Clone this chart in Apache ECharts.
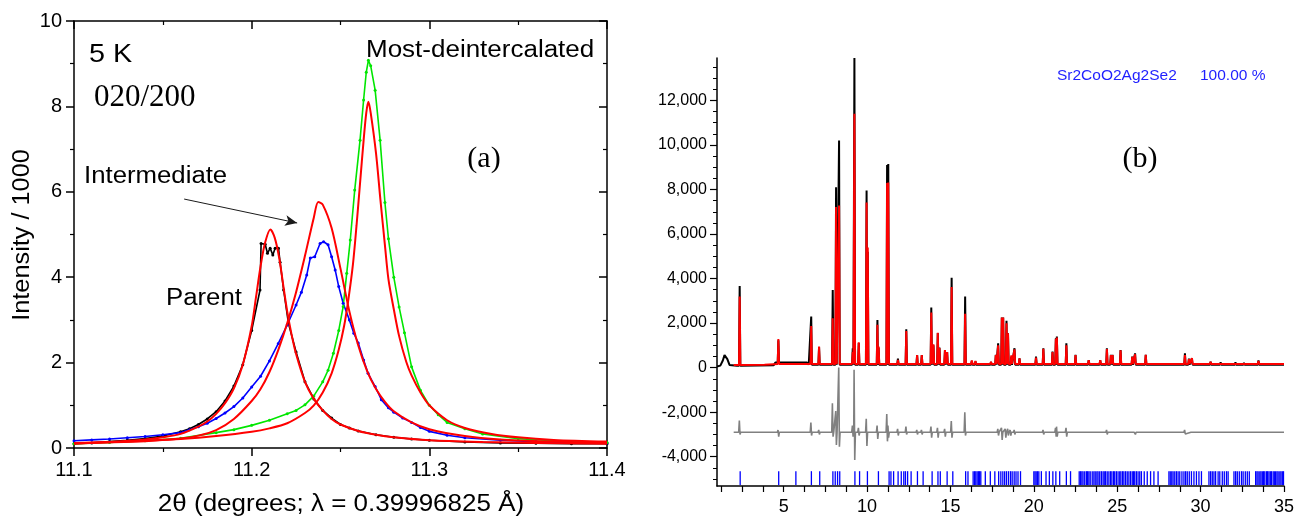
<!DOCTYPE html>
<html><head><meta charset="utf-8">
<script src="https://cdn.jsdelivr.net/npm/echarts@6/dist/echarts.min.js"></script>
<style>html,body{margin:0;padding:0;background:#fff}#c{width:1297px;height:517px}</style>
</head><body><div id="c"></div>
<script>
// ---------- Panel (a): 020/200 peak at 5 K ----------
const parentX = [11.100,11.110,11.120,11.130,11.140,11.150,11.160,11.165,11.170,11.175,11.180,11.185,11.190,11.195,11.200,11.2047,11.2053,11.2076,11.2089,11.2104,11.2119,11.2132,11.2151,11.216,11.218,11.2207,11.225,11.230,11.235,11.240,11.245,11.250,11.255,11.260,11.270,11.280,11.290,11.300,11.320,11.340,11.360,11.380,11.400];
const parentY = [0.10,0.12,0.15,0.18,0.22,0.28,0.38,0.45,0.55,0.68,0.85,1.10,1.45,1.95,2.75,3.70,4.79,4.77,4.56,4.68,4.52,4.68,4.68,4.35,3.70,2.92,2.25,1.55,1.15,0.88,0.70,0.55,0.47,0.40,0.31,0.25,0.21,0.18,0.14,0.12,0.11,0.10,0.10];
const parentFitX = [11.100,11.120,11.140,11.150,11.160,11.170,11.175,11.180,11.185,11.190,11.195,11.200,11.2025,11.205,11.2075,11.2105,11.213,11.2155,11.218,11.220,11.2225,11.225,11.230,11.235,11.240,11.245,11.250,11.260,11.270,11.280,11.300,11.330,11.360,11.400];
const parentFitY = [0.10,0.14,0.20,0.25,0.33,0.50,0.62,0.80,1.05,1.40,1.95,2.85,3.55,4.25,4.80,5.12,4.92,4.45,3.75,3.20,2.65,2.20,1.55,1.15,0.88,0.68,0.55,0.40,0.31,0.25,0.18,0.14,0.12,0.10];
const interX = [11.100,11.110,11.120,11.130,11.140,11.150,11.160,11.165,11.170,11.175,11.180,11.185,11.190,11.195,11.200,11.205,11.210,11.215,11.220,11.225,11.228,11.231,11.233,11.2355,11.2385,11.2405,11.243,11.245,11.247,11.249,11.2515,11.255,11.2575,11.260,11.263,11.2655,11.2695,11.273,11.277,11.280,11.285,11.290,11.295,11.300,11.310,11.320,11.340,11.360,11.380,11.400];
const interY = [0.17,0.19,0.21,0.24,0.27,0.31,0.36,0.43,0.50,0.58,0.69,0.82,0.97,1.17,1.43,1.68,2.04,2.45,2.88,3.35,3.65,4.05,4.45,4.48,4.79,4.83,4.76,4.48,4.17,3.78,3.39,3.00,2.69,2.46,2.06,1.75,1.44,1.13,0.94,0.84,0.70,0.60,0.48,0.39,0.30,0.24,0.18,0.15,0.13,0.12];
const interFitX = [11.100,11.120,11.140,11.160,11.170,11.180,11.190,11.200,11.205,11.210,11.215,11.220,11.225,11.230,11.235,11.2375,11.240,11.245,11.250,11.255,11.260,11.265,11.270,11.275,11.280,11.290,11.300,11.320,11.340,11.370,11.400];
const interFitY = [0.11,0.13,0.16,0.22,0.29,0.42,0.68,1.10,1.38,1.78,2.30,2.92,3.65,4.50,5.40,5.76,5.70,5.15,4.20,3.20,2.40,1.80,1.38,1.08,0.86,0.60,0.44,0.28,0.20,0.15,0.12];
const mostX = [11.100,11.120,11.140,11.160,11.180,11.190,11.200,11.210,11.220,11.225,11.230,11.235,11.240,11.243,11.246,11.249,11.2515,11.2535,11.2555,11.258,11.261,11.263,11.2645,11.2657,11.267,11.2695,11.2723,11.275,11.277,11.280,11.283,11.286,11.290,11.295,11.300,11.305,11.310,11.320,11.330,11.350,11.370,11.400];
const mostY = [0.10,0.13,0.17,0.23,0.36,0.43,0.53,0.65,0.80,0.88,1.01,1.22,1.55,1.82,2.22,2.75,3.31,4.09,4.87,6.04,7.21,8.15,8.80,9.08,8.95,8.38,7.21,5.75,4.90,4.00,3.30,2.70,1.90,1.35,1.00,0.78,0.60,0.45,0.33,0.22,0.17,0.13];
const mostFitX = [11.100,11.120,11.140,11.160,11.180,11.200,11.210,11.220,11.230,11.235,11.240,11.245,11.249,11.252,11.2545,11.257,11.259,11.261,11.263,11.2645,11.2657,11.267,11.270,11.2725,11.275,11.277,11.280,11.283,11.287,11.290,11.295,11.300,11.310,11.320,11.335,11.350,11.370,11.400];
const mostFitY = [0.12,0.14,0.17,0.21,0.28,0.38,0.46,0.58,0.82,1.00,1.30,1.75,2.30,2.85,3.50,4.30,5.20,6.20,7.20,7.85,8.11,7.85,6.90,5.80,4.75,3.95,3.25,2.62,2.02,1.70,1.30,1.00,0.65,0.47,0.33,0.25,0.19,0.15];
const arrowFrom = [11.162, 5.83];
const arrowTo = [11.2256, 5.27];

// ---------- Panel (b): Rietveld pattern ----------
const peakPos  = [2.36,4.68,6.65,7.12,7.94,8.14,8.32,9.14,9.24,9.50,9.97,10.04,10.62,10.69,11.20,11.27,11.85,12.35,13.0,13.28,13.85,13.98,14.24,14.34,14.67,14.8,15.07,15.88,16.28,16.5,17.43,17.72,17.86,18.08,18.16,18.36,18.45,18.65,18.84,19.14,20.13,20.57,21.12,21.32,21.38,21.95,22.5,23.29,23.98,24.38,24.62,24.72,25.2,25.9,26.07,26.71,28.33,29.06,29.3,29.48,30.6,31.2,32.09,32.6,33.47];
const peakObs  = [3670,1230,2290,930,3490,8100,10200,870,13900,1100,7950,5200,2140,900,9100,9140,400,1720,560,560,2700,1000,1550,900,790,700,4040,3190,300,280,250,580,1090,2250,2250,2100,1540,500,870,420,500,870,720,1320,1400,1090,570,340,340,870,570,570,790,500,640,570,200,640,400,420,270,240,240,220,320];
const peakCalc = [3190,1280,1870,945,2220,7210,7280,700,11400,1140,7420,5400,1920,950,8290,8310,350,1640,560,560,2480,1050,1570,880,790,700,3620,2420,320,300,260,560,1000,2250,2250,1990,1540,550,820,420,450,850,700,1280,1350,1000,560,330,330,840,560,560,780,480,600,580,200,560,380,430,260,240,240,220,300];
const obsBgX = [1.0,1.2,1.35,1.45,1.55,1.62,1.75,2.2,4.4,4.5,6.4,6.5,35];
const obsBgY = [50,90,320,560,600,380,120,80,110,230,230,130,130];
const calcBgX = [2.0,3.85,3.95,35];
const calcBgY = [120,125,165,160];
const diffOffset = -2900;
const diffPos  = [2.36,4.68,6.65,7.12,7.94,8.14,8.32,9.14,9.24,9.50,9.97,10.62,11.20,11.27,11.85,12.35,13.0,13.28,13.85,14.24,14.67,15.07,15.88,17.86,18.08,18.3,18.45,18.6,18.84,19.14,20.57,21.32,21.38,21.95,22.5,24.38,25.2,26.07,29.06,29.48];
const diffUp   = [520,100,430,100,1300,950,2900,300,2800,200,600,300,820,300,150,250,100,100,250,200,150,500,900,150,200,150,150,100,100,80,100,200,250,200,80,100,80,80,100,80];
const diffDown = [100,200,150,100,200,570,650,200,1250,150,620,300,410,250,150,100,100,100,250,250,200,250,150,150,350,250,150,150,100,80,100,200,200,200,80,100,80,100,80,80];
const reflPos = [2.39,4.70,5.73,6.66,7.16,7.95,8.09,8.23,8.36,9.27,9.55,10.02,10.68,11.32,11.43,11.59,11.86,12.05,12.2,12.3,12.43,12.64,13.02,13.36,13.9,14.25,14.39,14.8,15.14,15.91,16.05,16.36,16.45,16.52,16.6,16.68,16.75,16.82,17.09,17.39,17.66,17.89,18.02,18.14,18.25,18.36,18.48,18.6,18.7,18.82,18.93,19.05,19.2,
  20.0,20.07,20.14,20.22,20.3,20.45,20.73,20.93,21.14,21.32,21.55,21.95,22.2,
  22.72,22.8,22.88,22.95,23.05,23.15,23.22,23.3,23.38,23.5,23.6,23.68,23.78,23.85,23.95,24.05,24.15,24.22,24.3,24.4,24.5,24.6,24.68,24.78,24.85,24.95,25.05,25.15,25.22,25.32,25.4,25.5,25.6,25.7,25.8,25.9,25.98,26.05,26.15,26.25,26.35,26.45,26.62,26.8,27.0,27.2,27.45,
  28.1,28.18,28.27,28.35,28.45,28.55,28.65,28.75,28.88,29.0,29.1,29.2,29.32,29.45,29.6,29.75,29.9,30.05,
  30.5,30.6,30.7,30.8,30.9,31.05,31.15,31.3,31.42,31.55,31.65,
  32.0,32.1,32.2,32.32,32.45,32.55,32.68,32.8,32.92,
  33.3,33.38,33.45,33.55,33.62,33.7,33.78,33.85,33.95,34.02,34.1,34.18,34.25,34.35,34.42,34.5,34.58,34.65,34.75,34.82,34.9,34.97];
const xTickVals  = [1.25,2.5,3.75,5,6.25,7.5,8.75,10,11.25,12.5,13.75,15,16.25,17.5,18.75,20,21.25,22.5,23.75,25,26.25,27.5,28.75,30,31.25,32.5,33.75,35];
const xLabelVals = [5,10,15,20,25,30,35];
const yMajor = [-4000,-2000,0,2000,4000,6000,8000,10000,12000];
const yMinor = [-5000,-4500,-4000,-3500,-3000,-2500,-2000,-1500,-1000,-500,0,500,1000,1500,2000,2500,3000,3500,4000,4500,5000,5500,6000,6500,7000,7500,8000,8500,9000,9500,10000,10500,11000,11500,12000,12500,13000,13500];

// ---------- build ----------
const SANS = "'Liberation Sans', Arial, sans-serif";
const SERIF = "'Liberation Serif', 'Times New Roman', serif";
const zip = (xs, ys) => xs.map((x, i) => [x, ys[i]]);
function stepBase(x, kx, ky) { let b = ky[0]; for (let i = 0; i < kx.length; i++) { if (kx[i] <= x) b = ky[i]; } return b; }
const HW = 0.04;
function profile(heights, kx, ky, startX) {
  const pts = zip(kx, ky);
  peakPos.forEach((p, i) => {
    if (p < startX) return;
    const b = stepBase(p, kx, ky);
    pts.push([p - HW, b], [p, heights[i]], [p + HW, b]);
  });
  pts.sort((a, b) => a[0] - b[0]);
  return pts;
}
const obsData = profile(peakObs, obsBgX, obsBgY, 1.0);
const calcData = profile(peakCalc, calcBgX, calcBgY, 2.0);
const diffData = [[2.0, diffOffset]];
diffPos.forEach((p, i) => {
  diffData.push([p - 0.06, diffOffset], [p - 0.02, diffOffset + diffUp[i]], [p + 0.02, diffOffset - diffDown[i]], [p + 0.06, diffOffset]);
});
diffData.push([35, diffOffset]);
const TICK_TOP = -4650, TICK_BOTTOM = -5270;

const axisLineBlack = { show: true, onZero: false, lineStyle: { color: '#000', width: 1.5 } };
const chart = echarts.init(document.getElementById('c'), null, { renderer: 'canvas' });

const lineData = (name, xs, ys, color) => ({
  name, type: 'line', xAxisIndex: 0, yAxisIndex: 0, data: zip(xs, ys),
  showSymbol: true, symbol: 'circle', symbolSize: 3, color,
  lineStyle: { color, width: 1.6 }, itemStyle: { color }, z: 2
});
const fitLine = (name, xs, ys) => ({
  name, type: 'line', xAxisIndex: 0, yAxisIndex: 0, data: zip(xs, ys),
  showSymbol: false, smooth: 0.3, color: '#ff0000',
  lineStyle: { color: '#ff0000', width: 2 }, z: 3
});

const label = (text, x, y, size, opts = {}) => ({
  type: 'text', x, y, scaleX: opts.scaleX || 1, scaleY: opts.scaleY || 1, rotation: opts.rotation || 0, z: 50,
  style: {
    text, fontSize: size, fontFamily: opts.family || SANS, fill: opts.color || '#000',
    align: opts.align || 'left', verticalAlign: 'middle',
    textAlign: opts.align || 'left', textVerticalAlign: 'middle'
  }
});

const parentFitSeries = fitLine('Parent fit', parentFitX, parentFitY);
parentFitSeries.markLine = {
  silent: true, symbol: ['none', 'arrow'], symbolSize: [8, 12],
  label: { show: false },
  lineStyle: { color: '#1a1a1a', width: 1, type: 'solid' },
  data: [[{ coord: arrowFrom }, { coord: arrowTo }]]
};

const option = {
  animation: false,
  backgroundColor: '#fff',
  grid: [
    { left: 74, top: 21, width: 533, height: 427 },
    { left: 717, top: 58, width: 572, height: 428 }
  ],
  xAxis: [
    { gridIndex: 0, type: 'value', min: 11.1, max: 11.4, interval: 0.1, position: 'bottom',
      axisLine: axisLineBlack, axisTick: { show: true, length: 8, lineStyle: { color: '#000', width: 1.5 } },
      minorTick: { show: true, splitNumber: 2, length: 4, lineStyle: { color: '#000', width: 1.2 } },
      axisLabel: { fontSize: 20, color: '#000', fontFamily: SANS, margin: 12, formatter: v => v.toFixed(1) },
      splitLine: { show: false } },
    { gridIndex: 0, type: 'value', min: 11.1, max: 11.4, interval: 0.1, position: 'top',
      axisLine: axisLineBlack, axisTick: { show: true, inside: true, length: 8, lineStyle: { color: '#000', width: 1.5 } },
      minorTick: { show: true, splitNumber: 2, length: 4, lineStyle: { color: '#000', width: 1.2 } },
      axisLabel: { show: false }, splitLine: { show: false } },
    { gridIndex: 1, type: 'value', min: 1, max: 35, position: 'bottom',
      axisLine: axisLineBlack,
      axisTick: { show: true, length: 6, customValues: xTickVals, lineStyle: { color: '#000', width: 1.2 } },
      axisLabel: { fontSize: 18, color: '#000', fontFamily: SANS, margin: 12, customValues: xLabelVals },
      splitLine: { show: false } }
  ],
  yAxis: [
    { gridIndex: 0, type: 'value', min: 0, max: 10, interval: 2, position: 'left',
      axisLine: axisLineBlack, axisTick: { show: true, length: 8, lineStyle: { color: '#000', width: 1.5 } },
      minorTick: { show: true, splitNumber: 2, length: 4, lineStyle: { color: '#000', width: 1.2 } },
      axisLabel: { fontSize: 20, color: '#000', fontFamily: SANS, margin: 12 },
      splitLine: { show: false } },
    { gridIndex: 0, type: 'value', min: 0, max: 10, interval: 2, position: 'right',
      axisLine: axisLineBlack, axisTick: { show: true, inside: true, length: 8, lineStyle: { color: '#000', width: 1.5 } },
      minorTick: { show: true, splitNumber: 2, length: 4, lineStyle: { color: '#000', width: 1.2 } },
      axisLabel: { show: false }, splitLine: { show: false } },
    { gridIndex: 1, type: 'value', min: -5316, max: 13905, position: 'left',
      axisLine: axisLineBlack,
      axisTick: { show: true, length: 7, customValues: yMajor, lineStyle: { color: '#000', width: 1.2 } },
      axisLabel: { fontSize: 16, color: '#000', fontFamily: SANS, margin: 10, customValues: yMajor,
        formatter: v => Number(v).toLocaleString('en-US') },
      splitLine: { show: false } },
    { gridIndex: 1, type: 'value', min: -5316, max: 13905, position: 'left',
      axisLine: { show: false, onZero: false },
      axisTick: { show: true, length: 4, customValues: yMinor, lineStyle: { color: '#000', width: 1 } },
      axisLabel: { show: false }, splitLine: { show: false } }
  ],
  series: [
    lineData('Parent', parentX, parentY, '#000000'),
    lineData('Intermediate', interX, interY, '#0000ff'),
    lineData('Most-deintercalated', mostX, mostY, '#00e600'),
    parentFitSeries,
    fitLine('Intermediate fit', interFitX, interFitY),
    fitLine('Most-deintercalated fit', mostFitX, mostFitY),
    { name: 'Observed', type: 'line', xAxisIndex: 2, yAxisIndex: 2, data: obsData, showSymbol: false,
      color: '#000', lineStyle: { color: '#000', width: 2 }, z: 2 },
    { name: 'Calculated', type: 'line', xAxisIndex: 2, yAxisIndex: 2, data: calcData, showSymbol: false,
      color: '#ff0000', lineStyle: { color: '#ff0000', width: 2 }, z: 3 },
    { name: 'Difference', type: 'line', xAxisIndex: 2, yAxisIndex: 2, data: diffData, showSymbol: false,
      color: '#808080', lineStyle: { color: '#808080', width: 1.6 }, z: 2 },
    { name: 'Reflections', type: 'custom', xAxisIndex: 2, yAxisIndex: 2,
      data: reflPos.map(p => [p, TICK_TOP]), encode: { x: 0, y: 1 },
      renderItem: (params, api) => {
        const x = api.value(0);
        const a = api.coord([x, TICK_TOP]);
        const b = api.coord([x, TICK_BOTTOM]);
        return { type: 'line', shape: { x1: a[0], y1: a[1], x2: b[0], y2: b[1] },
          style: { stroke: '#0000ff', lineWidth: 1.3 } };
      }, z: 2 }
  ],
  graphic: [
    label('5 K', 89, 55, 25, { scaleX: 1.15 }),
    label('020/200', 94, 98, 31, { family: SERIF }),
    label('(a)', 484, 159, 30, { family: SERIF, align: 'center' }),
    label('Most-deintercalated', 366, 51, 23, { scaleX: 1.13 }),
    label('Intermediate', 84, 177, 23, { scaleX: 1.12 }),
    label('Parent', 166, 299, 23, { scaleX: 1.12 }),
    label('2θ (degrees; λ = 0.39996825 Å)', 341, 505, 23, { align: 'center', scaleX: 1.13 }),
    label('Intensity / 1000', 23, 235, 23, { align: 'center', rotation: Math.PI / 2, scaleX: 1.1 }),
    label('Sr2CoO2Ag2Se2', 1057, 76, 15.5, { color: '#1f1fff' }),
    label('100.00 %', 1200, 76, 15.5, { color: '#1f1fff' }),
    label('(b)', 1140, 159, 30, { family: SERIF, align: 'center' })
  ]
};
chart.setOption(option);
</script></body></html>
